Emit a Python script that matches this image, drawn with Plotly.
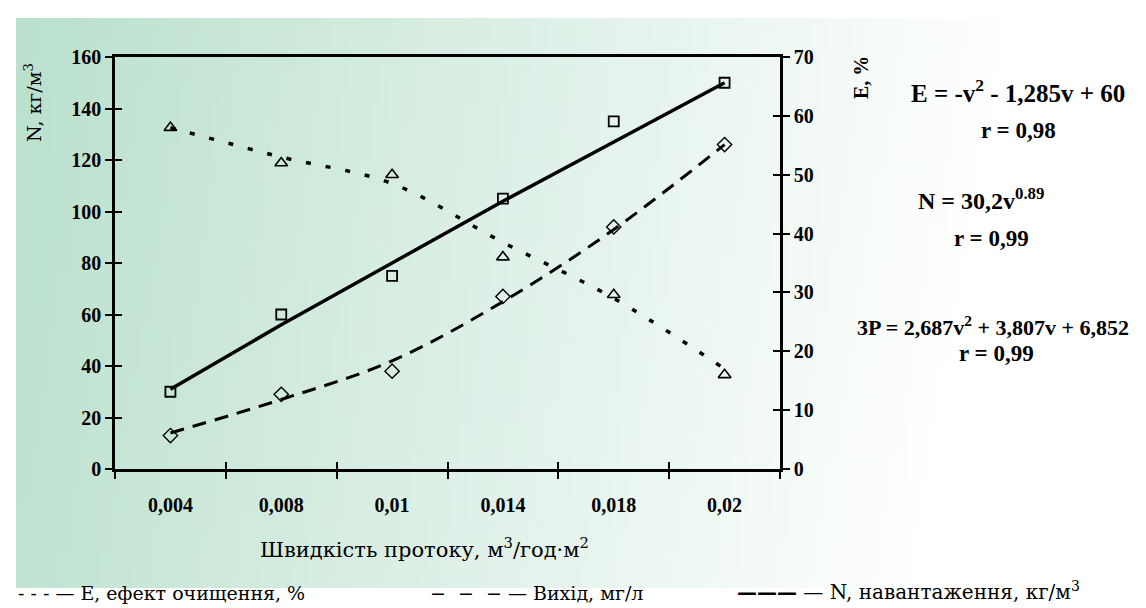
import base64, struct, zlib
import plotly.graph_objects as go

# ---------------- data ----------------
categories = ["0,004", "0,008", "0,01", "0,014", "0,018", "0,02"]
N_points = [30, 60, 75, 105, 135, 150]          # kg/m3, left axis (squares)
N_fit = [31, 56, 80, 104, 127, 150]            # solid trend
E_points = [58, 52, 50, 36, 29.6, 16]          # %, right axis (triangles)
E_fit = [58, 53, 48.5, 38.5, 29, 17]           # dotted trend
Out_points = [13, 29, 38, 67, 94, 126]         # mg/l, left axis (diamonds)
Out_fit = [14, 27, 42, 65, 93, 126]            # dashed trend
left_ticks = [0, 20, 40, 60, 80, 100, 120, 140, 160]
right_ticks = [0, 10, 20, 30, 40, 50, 60, 70]

# ---------------- geometry helpers ----------------
W, H = 1146, 608
L, R, T, B = 107, 772, 49, 461
def px(x):
    return (x - L) / (R - L)
def py(y):
    return (B - y) / (B - T)

SERIF = "Liberation Serif"
WIDE = "DejaVu Serif"

# ---------------- gradient background as PNG ----------------
def make_png(w, h, pixel):
    raw = b""
    for j in range(h):
        raw += b"\x00" + b"".join(bytes(pixel(i, j)) for i in range(w))
    def chunk(tag, data):
        c = struct.pack(">I", len(data)) + tag + data
        return c + struct.pack(">I", zlib.crc32(tag + data) & 0xffffffff)
    png = b"\x89PNG\r\n\x1a\n"
    png += chunk(b"IHDR", struct.pack(">IIBBBBB", w, h, 8, 2, 0, 0, 0))
    png += chunk(b"IDAT", zlib.compress(raw, 9))
    png += chunk(b"IEND", b"")
    return "data:image/png;base64," + base64.b64encode(png).decode()

PX0, PY0, PX1, PY1 = 8, 10, 1146, 580
GW, GH = 114, 57
g0 = (186, 224, 205)
def grad(i, j):
    x = PX0 + (i + 0.5) / GW * (PX1 - PX0)
    y = PY0 + (j + 0.5) / GH * (PY1 - PY0)
    t = (x - PX0) / 900 * 0.9 + (y / 580) * 0.1
    t = max(0.0, min(1.0, t))
    return tuple(int(round(c + (255 - c) * t)) for c in g0)

bg = make_png(GW, GH, grad)

# ---------------- figure ----------------
fig = go.Figure()

fig.add_trace(go.Scatter(x=categories, y=N_fit, mode="lines",
                         line=dict(color="black", width=3.5), showlegend=False))
fig.add_trace(go.Scatter(x=categories, y=N_points, mode="markers",
                         marker=dict(symbol="square-open", size=10, color="black",
                                     line=dict(color="black", width=1.8)),
                         showlegend=False))
fig.add_trace(go.Scatter(x=categories, y=Out_fit, mode="lines", line_shape="spline",
                         line=dict(color="black", width=3, dash="14px,9px"), showlegend=False))
fig.add_trace(go.Scatter(x=categories, y=Out_points, mode="markers",
                         marker=dict(symbol="diamond-open", size=11, color="black",
                                     line=dict(color="black", width=1.4)),
                         showlegend=False))
fig.add_trace(go.Scatter(x=categories, y=E_fit, mode="lines", line_shape="spline", yaxis="y2",
                         line=dict(color="black", width=3.5, dash="5px,15px"), showlegend=False))
fig.add_trace(go.Scatter(x=categories, y=E_points, mode="markers", yaxis="y2",
                         marker=dict(symbol="triangle-up-open", size=11, color="black",
                                     line=dict(color="black", width=1.6)),
                         showlegend=False))
# helper traces that carry the inner half of the crossing tick marks
fig.add_trace(go.Scatter(x=categories, y=[None] * 6, xaxis="x2", yaxis="y3",
                         mode="markers", showlegend=False, hoverinfo="skip"))
fig.add_trace(go.Scatter(x=categories, y=[None] * 6, xaxis="x2", yaxis="y4",
                         mode="markers", showlegend=False, hoverinfo="skip"))

tickfont = dict(family=SERIF, size=20, color="black", weight="bold")

fig.update_layout(
    width=W, height=H,
    margin=dict(l=L, r=W - R, t=T, b=H - B, pad=0),
    paper_bgcolor="white", plot_bgcolor="rgba(0,0,0,0)",
    xaxis=dict(type="category", categoryorder="array", categoryarray=categories,
               range=[-0.5, 5.5], tickson="boundaries", ticks="outside", ticklen=7,
               tickwidth=2.2, tickcolor="black", showline=True, linecolor="black",
               linewidth=2.5, mirror=True, showgrid=False, zeroline=False,
               tickfont=tickfont, ticklabelstandoff=16),
    xaxis2=dict(type="category", categoryorder="array", categoryarray=categories,
                range=[-0.5, 5.5], overlaying="x", anchor="y", tickson="boundaries",
                ticks="inside", ticklen=7, tickwidth=2.2, tickcolor="black",
                showticklabels=False, showline=False, showgrid=False, zeroline=False),
    yaxis=dict(range=[0, 160], tickvals=left_ticks, ticks="outside", ticklen=7,
               tickwidth=2.2, tickcolor="black", showline=True, linecolor="black",
               linewidth=2.5, showgrid=False, zeroline=False, tickfont=tickfont,
               ticksuffix="\u2002\u2009\u2009"),
    yaxis2=dict(range=[0, 70], tickvals=right_ticks, overlaying="y", side="right",
                anchor="x", ticks="outside", ticklen=7, tickwidth=2.2, tickcolor="black",
                showline=True, linecolor="black", linewidth=2.5, showgrid=False,
                zeroline=False, tickfont=tickfont, tickprefix="\u2009"),
    yaxis3=dict(range=[0, 160], tickvals=left_ticks, overlaying="y", side="left",
                anchor="x2", ticks="inside", ticklen=7, tickwidth=2.2, tickcolor="black",
                showticklabels=False, showline=False, showgrid=False, zeroline=False),
    yaxis4=dict(range=[0, 70], tickvals=right_ticks, overlaying="y", side="right",
                anchor="x2", ticks="inside", ticklen=7, tickwidth=2.2, tickcolor="black",
                showticklabels=False, showline=False, showgrid=False, zeroline=False),
    images=[dict(source=bg, xref="paper", yref="paper", x=px(PX0), y=py(PY0),
                 sizex=(PX1 - PX0) / (R - L), sizey=(PY1 - PY0) / (B - T),
                 xanchor="left", yanchor="top", sizing="stretch", layer="below")],
)

def ann(text, x, y, size=20, bold=True, angle=0, xanchor="center", family=SERIF):
    fig.add_annotation(text=text, x=px(x), y=py(y), xref="paper", yref="paper",
                       showarrow=False, textangle=angle, xanchor=xanchor, yanchor="middle",
                       font=dict(family=family, size=size, color="black",
                                 weight="bold" if bold else "normal"))

# axis titles
ann("N, кг/м<sup>3</sup>", 25, 95, size=19, bold=False, angle=-90, family=WIDE)
ann("E, %", 853, 70, size=20, bold=True, angle=-90)
ann("Швидкість протоку, м<sup>3</sup>/год·м<sup>2</sup>", 416, 540, size=21, bold=False, family=WIDE)

# equations
ann("E = -v<sup>2</sup> - 1,285v + 60", 1010, 83, size=25)
ann("r = 0,98", 1010, 122, size=23)
ann("N = 30,2v<sup>0.89</sup>", 973, 191, size=24)
ann("r = 0,99", 983, 230, size=23)
ann("3P = 2,687v<sup>2</sup> + 3,807v + 6,852", 985, 318, size=22)
ann("r = 0,99", 989, 345, size=23)

# legend text
NB = "\u00a0"
ann("-" + NB + "-" + NB + "- — E, ефект очищення, %", 8, 585, size=19, bold=False,
    xanchor="left", family=WIDE)
ann("−" + NB * 2 + "−" + NB * 2 + "− — Вихід, мг/л", 420, 585, size=19, bold=False,
    xanchor="left", family=WIDE)
ann("<b>———</b> — N, навантаження, кг/м<sup>3</sup>", 727, 583, size=20, bold=False,
    xanchor="left", family=WIDE)

fig.write_html("out.html")
